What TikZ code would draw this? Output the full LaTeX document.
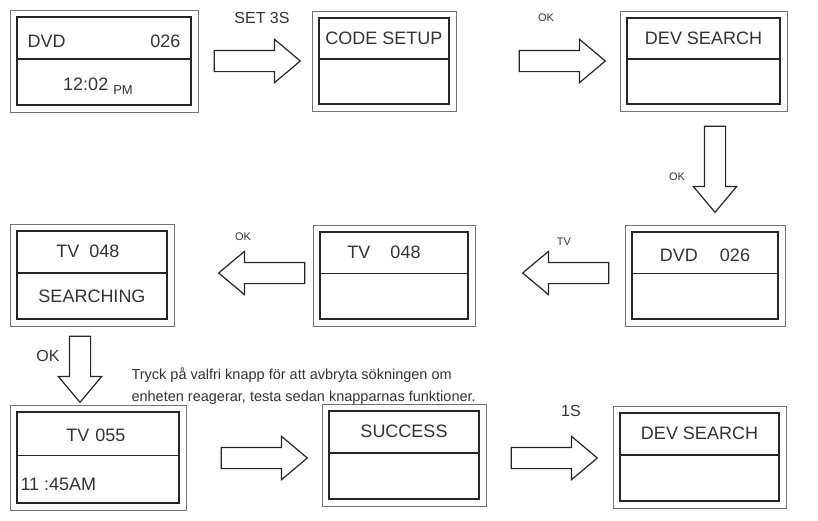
\documentclass[tikz,border=0pt]{standalone}
\usepackage{fontspec}
\setmainfont{Liberation Sans}
\usetikzlibrary{shapes.arrows,calc}
\tikzset{
  outerbox/.style={draw=black!55,line width=0.8pt},
  innerbox/.style={draw=black!85,line width=1.1pt},
  scrtext/.style={font=\fontsize{18}{20}\selectfont,text=black!80},
  blockarrow/.style={single arrow,draw=black!85,line width=1.2pt,fill=white,minimum width=42pt,minimum height=86pt,single arrow head extend=11pt,single arrow tip angle=80,inner sep=10pt},
  lbl/.style={font=\fontsize{16}{18}\selectfont,text=black!80},
  smlbl/.style={font=\fontsize{11}{13}\selectfont,text=black!80},
}
\newcommand{\scr}[5]{%
  \draw[outerbox] (#2,#3) rectangle (#4,#5);
  \draw[innerbox] ($(#2,#3)+(7,7)$) rectangle ($(#4,#5)+(-7,-7)$);
  \draw[innerbox] (#2+7,{#3+0.48*(#5-#3)}) -- (#4-7,{#3+0.48*(#5-#3)});
  \coordinate (#1t) at ({(#2+#4)/2},{#3+0.27*(#5-#3)});
  \coordinate (#1b) at ({(#2+#4)/2},{#3+0.74*(#5-#3)});
}
\begin{document}
\begin{tikzpicture}[x=1pt,y=-1pt]
\useasboundingbox[fill=white] (0,0) rectangle (818,520);
\scr{a}{10}{10}{198}{112}
\node[scrtext,anchor=west] (a1) at (24,41) {DVD};
\node[scrtext,anchor=east] (a2) at (184,41) {026};
\node[scrtext] (a3) at (98,86) {12:02 {\fontsize{13}{15}\selectfont\raisebox{-4pt}{PM}}};
\scr{b}{312}{11}{456}{111}
\node[scrtext] (b1) at (bt) {CODE SETUP};
\scr{c}{620}{11}{787}{111}
\node[scrtext] (c1) at (ct) {DEV SEARCH};
\scr{d}{625}{225}{785}{326}
\node[scrtext] (d1) at ($(dt)+(0,3)$) {DVD\hspace{22pt}026};
\scr{e}{313}{225}{475}{326}
\node[scrtext] (e1) at ($(et)+(-10,0)$) {TV\hspace{20pt}048};
\scr{f}{10}{224}{174}{326}
\node[scrtext] (f1) at ($(ft)+(-4,0)$) {TV\hspace{10pt}048};
\node[scrtext] (f2) at ($(fb)+(0,-3)$) {SEARCHING};
\scr{g}{10}{405}{186}{510}
\node[scrtext] (g1) at ($(gt)+(-2,2)$) {TV\hspace{6pt}055};
\node[scrtext,anchor=west] (g2) at (17,484) {11 :45AM};
\scr{h}{322}{404}{486}{506}
\node[scrtext] (h1) at (ht) {SUCCESS};
\scr{i}{613}{406}{786}{508}
\node[scrtext] (i1) at (it) {DEV SEARCH};
% arrows
\node[blockarrow] (r1) at (251,61) {};
\node[blockarrow] (r2) at (556,61) {};
\node[blockarrow,shape border rotate=270] (dn1) at (715,163) {};
\node[blockarrow,shape border rotate=180] (l1) at (572,273) {};
\node[blockarrow,shape border rotate=180] (l2) at (268,273) {};
\node[blockarrow,shape border rotate=270,minimum height=66pt] (dn2) at (80,363) {};
\node[blockarrow] (r3) at (258,458) {};
\node[blockarrow] (r4) at (548,458) {};
% labels
\node[lbl] (t1) at (262,18) {SET 3S};
\node[smlbl] (t2) at (546,18) {OK};
\node[smlbl] (t3) at (677,177) {OK};
\node[smlbl] (t4) at (564,242) {TV};
\node[smlbl] (t5) at (243,237) {OK};
\node[lbl] (t6) at (48,356) {OK};
\node[lbl,anchor=west,align=left,font=\fontsize{14.5}{22}\selectfont] (t7) at (128,386) {Tryck på valfri knapp för att avbryta sökningen om\\enheten reagerar, testa sedan knapparnas funktioner.};
\node[lbl] (t8) at (571,411) {1S};
\end{tikzpicture}
\end{document}
